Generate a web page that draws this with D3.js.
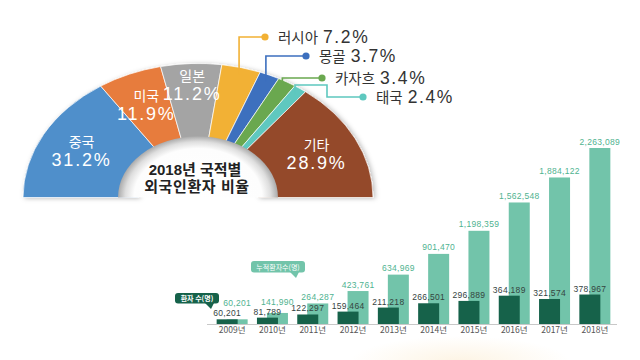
<!DOCTYPE html>
<html><head><meta charset="utf-8">
<script src="https://cdn.jsdelivr.net/npm/d3@7"></script>
<style>
html,body{margin:0;padding:0;background:#fff;}
svg{display:block;}
</style></head>
<body>
<svg id="c" width="640" height="360"></svg>
<script>
// ---- data ----
const pieLabels = ["중국","미국","일본","러시아","몽골","카자흐","태국","기타"];
const pieValues = [31.2, 11.9, 11.2, 7.2, 3.7, 3.4, 2.4, 28.9];
const pieTitle = ["2018년 국적별", "외국인환자 비율"];
const calloutNames = ["러시아","몽골","카자흐","태국"];

const years = ["2009년","2010년","2011년","2012년","2013년","2014년","2015년","2016년","2017년","2018년"];
const currentPatients = [60201, 81789, 122297, 159464, 211218, 266501, 296889, 364189, 321574, 378967];
const cumulativePatients = [60201, 141990, 264287, 423761, 634969, 901470, 1198359, 1562548, 1884122, 2263089];
const legendCurrent = "환자 수(명)";
const legendCumulative = "누적환자수(명)";

// ---- styles / layout ----
const pieColors = ["#4f8fcb","#e77b3c","#a4a4a4","#f2b134","#3c6fbe","#6aa84f","#5ec8bf","#944a2c"];
const KR = "'Noto Sans CJK KR','Noto Sans',sans-serif";
const NUM = "'Liberation Sans',Arial,sans-serif";
const MIX = "'Liberation Sans','Noto Sans CJK KR',sans-serif";

const svg = d3.select("#c");
const defs = svg.append("defs");

// subtle background glow
const glow = defs.append("radialGradient").attr("id","glow");
glow.append("stop").attr("offset","0%").attr("stop-color","#fbe9c8").attr("stop-opacity",0.5);
glow.append("stop").attr("offset","100%").attr("stop-color","#fbe9c8").attr("stop-opacity",0);
svg.append("ellipse").attr("cx",460).attr("cy",362).attr("rx",110).attr("ry",26).attr("fill","url(#glow)");

const sh = defs.append("filter").attr("id","sh").attr("x","-20%").attr("y","-20%").attr("width","140%").attr("height","140%");
sh.append("feDropShadow").attr("dx",2).attr("dy",1).attr("stdDeviation",2.5).attr("flood-color","#000").attr("flood-opacity",0.25);

const ring = defs.append("radialGradient").attr("id","ring")
  .attr("gradientUnits","userSpaceOnUse").attr("cx",0).attr("cy",0).attr("r",80).attr("fx",0).attr("fy",0);
ring.append("stop").attr("offset","0%").attr("stop-color","#ffffff");
ring.append("stop").attr("offset","80%").attr("stop-color","#fdfdfd");
ring.append("stop").attr("offset","91%").attr("stop-color","#dedede");
ring.append("stop").attr("offset","100%").attr("stop-color","#aaaaaa");

// ---- half donut ----
const cx = 198, cy = 197.5, R = 175, sy = 0.766;
const pie = d3.pie().sort(null).startAngle(-Math.PI/2).endAngle(Math.PI/2);
const arcs = pie(pieValues);
const arc = d3.arc().innerRadius(60).outerRadius(R);

const pg = svg.append("g").attr("transform",`translate(${cx},${cy}) scale(1,${sy})`);
pg.append("g").attr("filter","url(#sh)")
  .selectAll("path").data(arcs).join("path")
  .attr("d", arc)
  .attr("fill", (d,i) => pieColors[i])
  .attr("stroke","#fff").attr("stroke-width",0.8);

// center disk
pg.append("path")
  .attr("d", d3.arc().innerRadius(0).outerRadius(80).startAngle(-Math.PI/2).endAngle(Math.PI/2)())
  .attr("fill","url(#ring)");

function pt(angle, r){ return [cx + r*Math.sin(angle), cy - sy*r*Math.cos(angle)]; }

// inside labels
const labelRadius = {"일본":148};
arcs.forEach((d,i) => {
  const name = pieLabels[i];
  if (calloutNames.includes(name)) return;
  const a = (d.startAngle + d.endAngle)/2;
  const [x,y] = pt(a, labelRadius[name] || 132);
  const t = svg.append("text").attr("x",x).attr("y",y).attr("text-anchor","middle")
    .attr("fill","#fff");
  t.append("tspan").attr("x",x).attr("dy",-3).attr("font-family",KR).attr("font-size",14).text(name);
  t.append("tspan").attr("x",x).attr("dy",19).attr("font-family",NUM).attr("font-size",18)
    .attr("letter-spacing",1.8).text(pieValues[i].toFixed(1)+"%");
});

// callouts
const calloutDots = {"러시아":[265,37],"몽골":[306,56],"카자흐":[322,78],"태국":[363,97]};
const calloutElbow = {"태국":[85,327]};
arcs.forEach((d,i) => {
  const name = pieLabels[i];
  if (!calloutNames.includes(name)) return;
  const a = (d.startAngle + d.endAngle)/2;
  const [ax,ay] = pt(a, 166);
  const [dx,dy] = calloutDots[name];
  let p;
  if (calloutElbow[name]) {
    const [ey,ex] = calloutElbow[name];
    p = `M${ax},${ay}V${ey}H${ex}V${dy}H${dx}`;
  } else {
    p = `M${ax},${ay}V${dy}H${dx}`;
  }
  svg.append("path").attr("d",p).attr("fill","none").attr("stroke",pieColors[i]).attr("stroke-width",1.6);
  svg.append("circle").attr("cx",dx).attr("cy",dy).attr("r",3.6).attr("fill",pieColors[i]);
  const t = svg.append("text").attr("x",dx+13).attr("y",dy+6).attr("fill","#333");
  t.append("tspan").attr("font-family",KR).attr("font-size",14.5).text(name);
  t.append("tspan").attr("dx",5).attr("font-family",NUM).attr("font-size",17.5).attr("letter-spacing",1.6)
    .text(pieValues[i].toFixed(1)+"%");
});

// center title
svg.append("text").attr("x",cx-3).attr("y",174.5).attr("text-anchor","middle")
  .attr("font-family",MIX).attr("font-size",15).attr("font-weight","bold").attr("fill","#222").text(pieTitle[0]);
svg.append("text").attr("x",cx-1).attr("y",192).attr("text-anchor","middle")
  .attr("font-family",MIX).attr("font-size",15).attr("font-weight","bold").attr("fill","#222")
  .attr("letter-spacing",0.6).text(pieTitle[1]);

// ---- bar chart ----
const x = d3.scaleBand().domain(years).range([212, 615]).padding(0);
const y = d3.scaleLinear().domain([0, d3.max(cumulativePatients)]).range([324, 148]);
const bw = 21;
const lightC = "#72c4aa", darkC = "#16624a";
const bg = svg.append("g");

bg.selectAll("rect.cum").data(years).join("rect").attr("class","cum")
  .attr("x", d => x(d) + x.bandwidth()/2 - 5.5)
  .attr("width", bw)
  .attr("y", (d,i) => y(cumulativePatients[i]))
  .attr("height", (d,i) => y(0) - y(cumulativePatients[i]))
  .attr("fill", lightC);

bg.selectAll("rect.cur").data(years).join("rect").attr("class","cur")
  .attr("x", d => x(d) + x.bandwidth()/2 - 15.5)
  .attr("width", bw)
  .attr("y", (d,i) => y(currentPatients[i]))
  .attr("height", (d,i) => y(0) - y(currentPatients[i]))
  .attr("fill", darkC);

const fmt = d3.format(",");
bg.selectAll("text.curl").data(years).join("text").attr("class","curl")
  .attr("x", d => x(d) + x.bandwidth()/2 - 5)
  .attr("y", (d,i) => y(currentPatients[i]) - 3)
  .attr("text-anchor","middle").attr("font-family",NUM).attr("font-size",8.5)
  .attr("letter-spacing",0.3).attr("fill","#35443f")
  .text((d,i) => fmt(currentPatients[i]));

bg.selectAll("text.cuml").data(years).join("text").attr("class","cuml")
  .attr("x", d => x(d) + x.bandwidth()/2 + 5)
  .attr("y", (d,i) => Math.min(y(cumulativePatients[i]) - 3.5, y(currentPatients[i]) - 13))
  .attr("text-anchor","middle").attr("font-family",NUM).attr("font-size",8.5)
  .attr("letter-spacing",0.3).attr("fill","#4fb390")
  .text((d,i) => fmt(cumulativePatients[i]));

// axis
svg.append("line").attr("x1",207).attr("x2",617).attr("y1",324.5).attr("y2",324.5)
  .attr("stroke","#c8c8c8").attr("stroke-width",1);
const ax = svg.append("g").attr("transform","translate(0,325)")
  .call(d3.axisBottom(x).tickSize(0).tickPadding(2));
ax.select(".domain").remove();
ax.selectAll("text").attr("font-family",KR).attr("font-size",8.5).attr("fill","#555");

// legend badges
const lg1 = svg.append("g");
lg1.append("rect").attr("x",251).attr("y",261).attr("width",54).attr("height",11.5).attr("rx",3).attr("fill",lightC);
lg1.append("path").attr("d","M290,272L299,272L296,278Z").attr("fill",lightC);
lg1.append("text").attr("x",278).attr("y",269.5).attr("text-anchor","middle").attr("font-family",KR)
  .attr("font-size",7).attr("fill","#fff").text(legendCumulative);

const lg2 = svg.append("g");
lg2.append("rect").attr("x",175).attr("y",293).attr("width",44).attr("height",10.5).attr("rx",3).attr("fill",darkC);
lg2.append("path").attr("d","M205,303L214,303L211,309Z").attr("fill",darkC);
lg2.append("text").attr("x",197).attr("y",301).attr("text-anchor","middle").attr("font-family",KR)
  .attr("font-size",7).attr("font-weight","bold").attr("fill","#fff").text(legendCurrent);
</script>
</body></html>
